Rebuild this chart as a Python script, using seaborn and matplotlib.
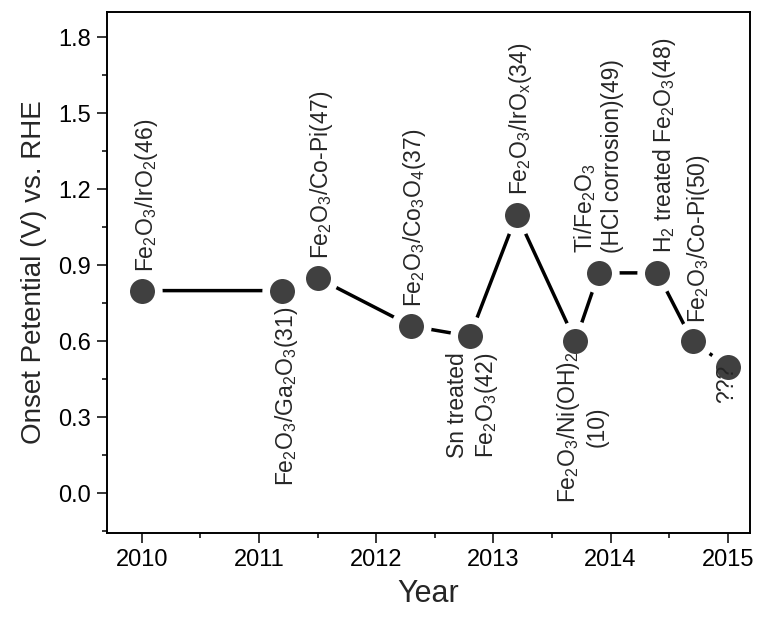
import matplotlib
matplotlib.use("Agg")
import matplotlib.pyplot as plt
from matplotlib.ticker import MultipleLocator, FormatStrFormatter
import seaborn as sns
import pandas as pd

# Onset potential of Fe2O3-based photoanodes reported over the years
years = [2010.0, 2011.2, 2011.5, 2012.3, 2012.8, 2013.2, 2013.7, 2013.9, 2014.4, 2014.7, 2015.0]
onset = [0.80, 0.80, 0.85, 0.66, 0.62, 1.10, 0.60, 0.87, 0.87, 0.60, 0.50]
labels = [
    r"Fe$_2$O$_3$/IrO$_2$(46)",
    r"Fe$_2$O$_3$/Ga$_2$O$_3$(31)",
    r"Fe$_2$O$_3$/Co-Pi(47)",
    r"Fe$_2$O$_3$/Co$_3$O$_4$(37)",
    "Sn treated\n" + r"Fe$_2$O$_3$(42)",
    r"Fe$_2$O$_3$/IrO$_x$(34)",
    r"Fe$_2$O$_3$/Ni(OH)$_2$" + "\n(10)",
    r"Ti/Fe$_2$O$_3$" + "\n(HCl corrosion)(49)",
    r"H$_2$ treated Fe$_2$O$_3$(48)",
    r"Fe$_2$O$_3$/Co-Pi(50)",
    "???",
]
# label placement: side of the point, offset (points), multi-line alignment
label_side = ["above", "below", "above", "above", "below", "above",
              "below", "above", "above", "above", "below"]
label_dx = [3.5, 3, 2.5, 2.5, 2.5, 2.5, 4.5, -0.5, 5, 4.5, -0.5]
label_dy = [13.5, 11.5, 13.5, 14, 11.5, 14, 7, 14, 14, 13, -1.0]
label_align = ["left", "left", "left", "left", "left", "left",
               "center", "left", "left", "left", "left"]

df = pd.DataFrame({"Year": years, "Onset": onset})

sns.set_style("ticks")
plt.rcParams["font.family"] = ["Liberation Sans", "DejaVu Sans"]
plt.rcParams["mathtext.default"] = "regular"

fig = plt.figure(figsize=(7.6, 6.17), dpi=100)
ax = fig.add_axes([0.1404, 0.1361, 0.9868 - 0.1404, 0.981 - 0.1361])

sns.lineplot(data=df, x="Year", y="Onset", ax=ax, color="black", linewidth=2.5,
             marker="o", markersize=23.5, markerfacecolor="#404040",
             markeredgecolor="white", markeredgewidth=5.5, sort=False)

for x, y, txt, side, dx, dy, al in zip(years, onset, labels, label_side,
                                       label_dx, label_dy, label_align):
    if side == "above":
        ax.annotate(txt, (x, y), xytext=(dx, dy), textcoords="offset points",
                    rotation=90, ha="center", va="bottom", multialignment=al,
                    fontsize=16.5, zorder=5)
    else:
        ax.annotate(txt, (x, y), xytext=(dx, -dy), textcoords="offset points",
                    rotation=90, ha="center", va="top", multialignment=al,
                    fontsize=16.5, zorder=5)

ax.set_xlim(2009.70, 2015.19)
ax.set_ylim(-0.157, 1.901)
ax.xaxis.set_major_locator(MultipleLocator(1))
ax.xaxis.set_minor_locator(MultipleLocator(0.5))
ax.yaxis.set_major_locator(MultipleLocator(0.3))
ax.yaxis.set_minor_locator(MultipleLocator(0.15))
ax.yaxis.set_major_formatter(FormatStrFormatter("%.1f"))
ax.xaxis.set_major_formatter(FormatStrFormatter("%d"))

ax.tick_params(which="major", direction="out", length=7.5, width=1.1,
               labelsize=17, pad=4, color="black", labelcolor="black")
ax.tick_params(which="minor", direction="out", length=3.8, width=1.1, color="black")
for sp in ax.spines.values():
    sp.set_visible(True)
    sp.set_linewidth(1.4)
    sp.set_color("black")

ax.set_xlabel("Year", fontsize=22, labelpad=6)
ax.set_ylabel("Onset Petential (V) vs. RHE", fontsize=20, labelpad=8)

fig.savefig("out.png", dpi=100, facecolor="white")
